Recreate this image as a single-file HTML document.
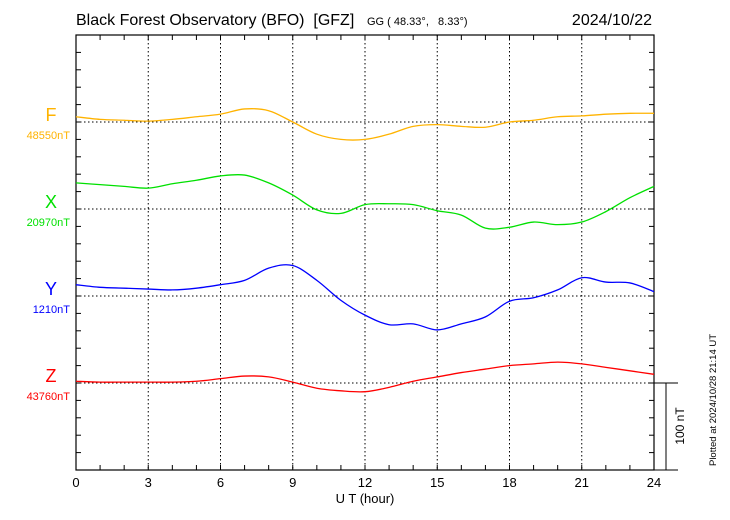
<!DOCTYPE html>
<html><head><meta charset="utf-8"><style>
body{margin:0;background:#fff}
svg{display:block;font-family:"Liberation Sans",sans-serif}
text{white-space:pre}
</style></head><body>
<svg id="c" width="730" height="520"></svg>
<script>
const hours=[0,1,2,3,4,5,6,7,8,9,10,11,12,13,14,15,16,17,18,19,20,21,22,23,24];
const fDev=[6,3,2,1,3,6,9,15,13,0,-14,-20,-20,-14,-5,-3,-5,-6,0,2,6,7,9,10,10];
const xDev=[30,28,26,24,29,33,38,39,30,16,-1,-5,5,6,5,-2,-7,-22,-21,-15,-18,-15,-3,13,26];
const yDev=[13,10,9,8,7,9,13,18,32,35,18,-5,-22,-33,-32,-39,-32,-24,-6,-2,7,21,16,15,5];
const zDev=[2,1,1,1,1,2,5,8,7,1,-6,-9,-10,-5,2,7,12,16,20,22,24,22,18,14,10];
const xTicks=[0,3,6,9,12,15,18,21,24];
const names=["F","X","Y","Z"];
const baseLabels=["48550nT","20970nT","1210nT","43760nT"];
const baseRows=[5,10,15,20];

const NS="http://www.w3.org/2000/svg",svg=document.getElementById('c');
const L=76,R=654,T=35,B=470,rowH=(B-T)/25,pxPerNT=rowH/20;
const sx=h=>L+(R-L)*h/24;
const sy=(row,v)=>T+row*rowH-v*pxPerNT;
function mk(t,a,txt){const e=document.createElementNS(NS,t);for(const k in a)e.setAttribute(k,a[k]);if(txt!==undefined)e.textContent=txt;svg.appendChild(e);return e;}
const colors=["#ffb300","#00e000","#0000ff","#ff0000"];
const series=[fDev,xDev,yDev,zDev];

let e;
xTicks.slice(1,-1).forEach(h=>{e=mk('line',{x1:sx(h),x2:sx(h),y1:T,y2:B,stroke:'#000','stroke-dasharray':'1.5,2.5','stroke-width':1});

});
baseRows.forEach(r=>{const y=T+r*rowH;e=mk('line',{x1:L,x2:R,y1:y,y2:y,stroke:'#000','stroke-dasharray':'1.5,2.5','stroke-width':1});

});
e=mk('rect',{x:L,y:T,width:R-L,height:B-T,fill:'none',stroke:'#000','stroke-width':1.2});


for(let h=1;h<24;h++){
 mk('line',{x1:sx(h),x2:sx(h),y1:T,y2:T+5,stroke:'#000'});
 mk('line',{x1:sx(h),x2:sx(h),y1:B,y2:B-5,stroke:'#000'});
}
for(let r=1;r<25;r++){const y=T+r*rowH;
 mk('line',{x1:L,x2:L+5,y1:y,y2:y,stroke:'#000'});
 mk('line',{x1:R,x2:R-5,y1:y,y2:y,stroke:'#000'});}
xTicks.forEach(h=>{e=mk('text',{x:sx(h),y:487,'text-anchor':'middle','font-size':13},String(h));

});
e=mk('text',{x:365,y:503,'text-anchor':'middle','font-size':13},'U T (hour)');


const zy=T+20*rowH;
mk('line',{x1:R,x2:678,y1:zy,y2:zy,stroke:'#000'});
mk('line',{x1:R,x2:678,y1:B,y2:B,stroke:'#000'});
e=mk('line',{x1:666,x2:666,y1:zy,y2:B,stroke:'#000'});


e=mk('text',{x:0,y:0,'font-size':12,'text-anchor':'middle',transform:'translate(684,426) rotate(-90)'},'100 nT');


e=mk('text',{x:0,y:0,'font-size':9.5,'text-anchor':'middle',transform:'translate(716,400) rotate(-90)'},'Plotted at 2024/10/28 21:14 UT');


series.forEach((s,i)=>{
 const r=baseRows[i];
 const P=s.map((v,k)=>[sx(hours[k]),sy(r,v)]);
 let d='M'+P[0][0]+','+P[0][1];
 for(let k=0;k<P.length-1;k++){
  const p0=P[Math.max(0,k-1)],p1=P[k],p2=P[k+1],p3=P[Math.min(P.length-1,k+2)];
  const c1=[p1[0]+(p2[0]-p0[0])/6,p1[1]+(p2[1]-p0[1])/6];
  const c2=[p2[0]-(p3[0]-p1[0])/6,p2[1]-(p3[1]-p1[1])/6];
  d+=' C'+c1[0]+','+c1[1]+' '+c2[0]+','+c2[1]+' '+p2[0]+','+p2[1];
 }
 e=mk('path',{d:d,fill:'none',stroke:colors[i],'stroke-width':1.3});
 
 
 const by=T+r*rowH;
 e=mk('text',{x:51,y:by-1,'text-anchor':'middle','font-size':18,fill:colors[i]},names[i]);
 
 
 e=mk('text',{x:70,y:by+17,'text-anchor':'end','font-size':11,fill:colors[i]},baseLabels[i]);
 
 
});
e=mk('text',{x:76,y:25,'font-size':16},'Black Forest Observatory (BFO)  [GFZ]');


e=mk('text',{x:367,y:25,'font-size':11},'GG ( 48.33°,   8.33°)');


e=mk('text',{x:652,y:25,'font-size':16,'text-anchor':'end'},'2024/10/22');


</script>
</body></html>
